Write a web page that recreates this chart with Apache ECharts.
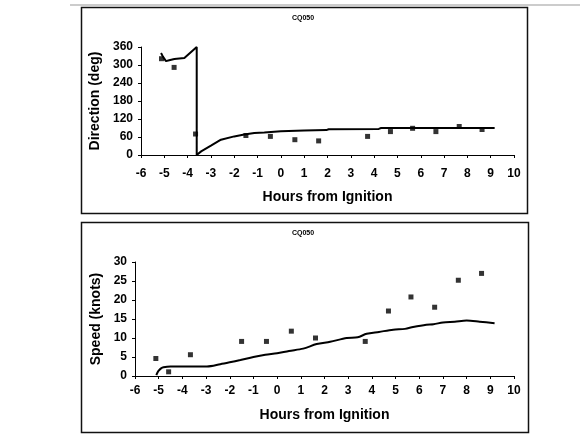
<!DOCTYPE html>
<html>
<head>
    <meta charset="utf-8" />
    <title>CQ050</title>
    <script src="https://cdn.jsdelivr.net/npm/echarts@6/dist/echarts.min.js"></script>
    <style>
        html, body { margin: 0; padding: 0; background: #fff; }
    </style>
</head>
<body>
    <div id="main" style="width:580px;height:434px"></div>
    <script type="text/javascript">

        // observation times (hours from ignition) shared by both panels
        var obsHours = [-5.12, -4.58, -3.66, -1.5, -0.45, 0.6, 1.62, 3.72, 4.7, 5.65, 6.65, 7.65, 8.63];
        var dirObs = [321, 292, 70, 65, 62, 51, 47, 62, 78, 89, 78, 95, 85];
        var speedObs = [4.6, 1.1, 5.6, 9.1, 9.1, 11.8, 10.0, 9.1, 17.1, 20.8, 18.1, 25.2, 27.0];

        // model line, direction
        var dirLineHours = [-5.14, -5.06, -4.93, -4.79, -4.57, -4.14, -3.61, -3.61, -3.42, -3.0, -2.57, -2.0, -1.57, -1.14, -0.71, 0, 1, 1.95, 2.05, 4.2, 4.3, 9.17];
        var dirLine = [340, 328, 313, 316, 320, 323, 360, 0, 12, 31, 51, 62, 68, 73, 75, 79, 82, 83, 86, 87, 90, 90];

        // model line, speed
        var speedLineHours = [-5.1, -5.05, -5.0, -4.9, -4.8, -4.5, -4, -3.5, -2.96, -2.4, -2.0, -1.55, -1.0, -0.5, 0, 0.5, 1.1, 1.67, 2.24, 2.94, 3.4, 3.78, 4.3, 4.9, 5.4, 5.74, 6.3, 6.6, 7.0, 7.5, 8.0, 8.55, 9.18];
        var speedLine = [0.2, 0.9, 1.4, 2.0, 2.3, 2.5, 2.5, 2.5, 2.5, 3.1, 3.6, 4.2, 5.0, 5.6, 6.0, 6.6, 7.2, 8.4, 9.0, 10.0, 10.2, 11.1, 11.6, 12.2, 12.4, 12.9, 13.5, 13.6, 14.1, 14.3, 14.6, 14.3, 13.9];

        var xTicks = { min: -6, max: 10, interval: 1 };
        var dirTicks = { min: 0, max: 360, interval: 60 };
        var speedTicks = { min: 0, max: 30, interval: 5 };

        function pairs(xs, ys) {
            return xs.map(function (x, i) { return [x, ys[i]]; });
        }

        var font = 'Liberation Sans';
        var chart = echarts.init(document.getElementById('main'));

        function xAxis(idx, margin, gap) {
            return {
                type: 'value', gridIndex: idx,
                min: xTicks.min, max: xTicks.max, interval: xTicks.interval,
                name: 'Hours from Ignition', nameLocation: 'middle', nameGap: gap,
                nameTextStyle: { fontFamily: font, fontWeight: 'bold', fontSize: 14, color: '#000' },
                axisLine: { onZero: false, lineStyle: { color: '#000', width: 1 } },
                axisTick: { show: true, length: 3, lineStyle: { color: '#000' } },
                axisLabel: { fontFamily: font, fontWeight: 'bold', fontSize: 12, color: '#000', margin: margin },
                splitLine: { show: false }
            };
        }

        function yAxis(idx, ticks, name, gap) {
            return {
                type: 'value', gridIndex: idx,
                min: ticks.min, max: ticks.max, interval: ticks.interval,
                name: name, nameLocation: 'middle', nameGap: gap, nameRotate: 90,
                nameTextStyle: { fontFamily: font, fontWeight: 'bold', fontSize: 14, color: '#000' },
                axisLine: { show: true, onZero: false, lineStyle: { color: '#000', width: 1 } },
                axisTick: { show: true, length: 3, lineStyle: { color: '#000' } },
                axisLabel: { fontFamily: font, fontWeight: 'bold', fontSize: 12, color: '#000', margin: 8 },
                splitLine: { show: false }
            };
        }

        var option = {
            backgroundColor: '#fff',
            animation: false,
            grid: [
                { left: 141, top: 47, width: 373, height: 108 },
                { left: 135, top: 262, width: 379, height: 114 }
            ],
            xAxis: [xAxis(0, 13, 35), xAxis(1, 9, 32)],
            yAxis: [yAxis(0, dirTicks, 'Direction (deg)', 34), yAxis(1, speedTicks, 'Speed (knots)', 28)],
            graphic: [
                { type: 'line', shape: { x1: 70, y1: 5, x2: 580, y2: 5 }, style: { stroke: '#999', lineWidth: 1 } },
                { type: 'rect', shape: { x: 81.5, y: 7.5, width: 446, height: 206 }, style: { fill: null, stroke: '#111', lineWidth: 1.5 } },
                { type: 'rect', shape: { x: 81.5, y: 222.5, width: 447, height: 210 }, style: { fill: null, stroke: '#111', lineWidth: 1.5 } },
                { type: 'text', x: 303, y: 18, style: { text: 'CQ050', align: 'center', verticalAlign: 'middle', font: 'bold 7px "Liberation Sans"', fill: '#000' } },
                { type: 'text', x: 303, y: 233, style: { text: 'CQ050', align: 'center', verticalAlign: 'middle', font: 'bold 7px "Liberation Sans"', fill: '#000' } }
            ],
            series: [
                {
                    type: 'scatter', xAxisIndex: 0, yAxisIndex: 0,
                    symbol: 'rect', symbolSize: 5, itemStyle: { color: '#000' },
                    data: pairs(obsHours, dirObs)
                },
                {
                    type: 'line', xAxisIndex: 0, yAxisIndex: 0,
                    showSymbol: false, lineStyle: { color: '#000', width: 2 },
                    data: pairs(dirLineHours, dirLine)
                },
                {
                    type: 'scatter', xAxisIndex: 1, yAxisIndex: 1,
                    symbol: 'rect', symbolSize: 5, itemStyle: { color: '#000' },
                    data: pairs(obsHours, speedObs)
                },
                {
                    type: 'line', xAxisIndex: 1, yAxisIndex: 1,
                    showSymbol: false, smooth: 0.3, lineStyle: { color: '#000', width: 2 },
                    data: pairs(speedLineHours, speedLine)
                }
            ]
        };

        chart.setOption(option);

    </script>
</body>
</html>
